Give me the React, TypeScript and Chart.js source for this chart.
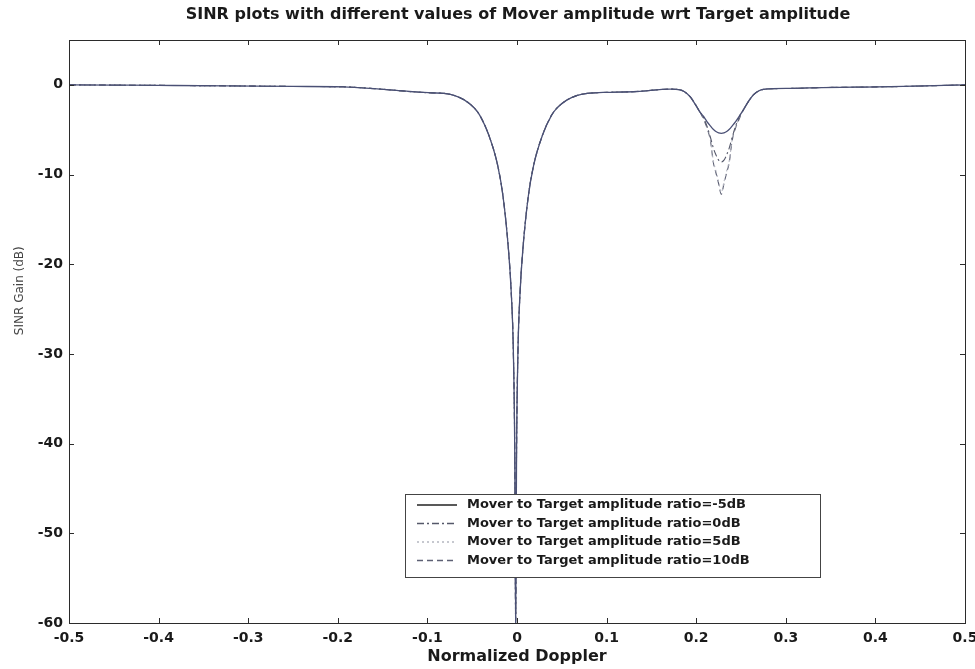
import { useEffect, useRef } from "react";
import { Chart, registerables } from "chart.js";

Chart.register(...registerables);

const FONT = "'DejaVu Sans', 'Liberation Sans', Arial, sans-serif";

const chartTitle = "SINR plots with different values of Mover amplitude wrt Target amplitude";
const xAxisTitle = "Normalized Doppler";
const yAxisTitle = "SINR Gain (dB)";

const xTickValues = [-0.5, -0.4, -0.3, -0.2, -0.1, 0, 0.1, 0.2, 0.3, 0.4, 0.5];
const xTickLabels = ["-0.5", "-0.4", "-0.3", "-0.2", "-0.1", "0", "0.1", "0.2", "0.3", "0.4", "0.5"];
const yTickValues = [-60, -50, -40, -30, -20, -10, 0];
const yTickLabels = ["-60", "-50", "-40", "-30", "-20", "-10", "0"];

// Response shared by every ratio (clutter notch at zero Doppler, flat elsewhere)
const baseDoppler = [
  -0.5, -0.45, -0.4, -0.324, -0.25, -0.194, -0.156, -0.12, -0.095, -0.0815,
  -0.0695, -0.0585, -0.0475, -0.0415, -0.0315, -0.0215, -0.0155, -0.0095, -0.0065, -0.0041,
  -0.0025, -0.0015, -0.0005, 0.0011, 0.0035, 0.0065, 0.0125, 0.0185, 0.0285, 0.0385,
  0.0445, 0.0555, 0.0665, 0.0785, 0.096, 0.134, 0.171, 0.34, 0.375, 0.431, 0.5,
];
const baseGain = [
  0, -0.03, -0.06, -0.11, -0.18, -0.22, -0.45, -0.74, -0.9, -0.95,
  -1.2, -1.7, -2.6, -3.4, -5.6, -9.0, -12.5, -18.4, -23, -29.6,
  -41, -60, -41, -29.6, -23, -18.4, -12.5, -9.0, -5.6, -3.4,
  -2.6, -1.7, -1.2, -0.95, -0.85, -0.74, -0.48, -0.3, -0.26, -0.18, 0,
];

// Mover Doppler region, one gain list per amplitude ratio
const dipDoppler = [
  0.182, 0.193, 0.204, 0.208, 0.212, 0.216, 0.219, 0.222, 0.225, 0.228, 0.231,
  0.234, 0.237, 0.24, 0.244, 0.248, 0.252, 0.258, 0.264, 0.275, 0.305,
];
const gainRatioM5 = [
  -0.56, -1.3, -3.0, -3.5, -4.1, -4.6, -4.95, -5.2, -5.35, -5.4, -5.35,
  -5.2, -4.95, -4.6, -4.1, -3.5, -2.9, -1.9, -1.1, -0.5, -0.4,
];
const gainRatio0 = [
  -0.56, -1.3, -3.0, -3.6, -4.6, -5.9, -7.0, -7.8, -8.4, -8.6, -8.4,
  -7.8, -7.0, -5.9, -4.6, -3.6, -2.9, -1.9, -1.1, -0.5, -0.4,
];
const gainRatio5 = [
  -0.56, -1.3, -3.0, -3.7, -4.7, -6.2, -8.4, -9.6, -10.8, -12.0, -10.8,
  -9.6, -8.4, -6.2, -4.7, -3.7, -2.9, -1.9, -1.1, -0.5, -0.4,
];
const gainRatio10 = [
  -0.56, -1.3, -3.0, -3.8, -4.8, -6.3, -8.6, -9.8, -11.0, -12.2, -11.0,
  -9.8, -8.6, -6.3, -4.8, -3.8, -2.9, -1.9, -1.1, -0.5, -0.4,
];

const seriesLabels = [
  "Mover to Target amplitude ratio=-5dB",
  "Mover to Target amplitude ratio=0dB",
  "Mover to Target amplitude ratio=5dB",
  "Mover to Target amplitude ratio=10dB",
];
const seriesGains = [gainRatioM5, gainRatio0, gainRatio5, gainRatio10];
const seriesColors = ["#4a5075", "#55586a", "#b4b6c0", "#5d6074"];
const seriesDashes: number[][] = [[], [7, 3, 2, 3], [2, 3], [6, 4]];
const seriesWidths = [1.3, 1.1, 1.1, 1.1];

function buildPoints(dip: number[]) {
  const pts = baseDoppler.map((x, i) => ({ x, y: baseGain[i] }));
  dipDoppler.forEach((x, i) => pts.push({ x, y: dip[i] }));
  return pts.sort((a, b) => a.x - b.x);
}

const framePlugin = {
  id: "matlabFrame",
  afterDatasetsDraw(chart: any) {
    const { ctx, chartArea: a, scales } = chart;
    const xs = scales.x;
    const ys = scales.y;
    ctx.save();

    // axes box
    ctx.strokeStyle = "#2b2b2b";
    ctx.lineWidth = 1;
    ctx.strokeRect(a.left + 0.5, a.top + 0.5, a.right - a.left, a.bottom - a.top);

    // inward tick marks on all four sides
    const t = 5;
    ctx.beginPath();
    xTickValues.forEach((v) => {
      const px = Math.round(xs.getPixelForValue(v)) + 0.5;
      ctx.moveTo(px, a.bottom);
      ctx.lineTo(px, a.bottom - t);
      ctx.moveTo(px, a.top);
      ctx.lineTo(px, a.top + t);
    });
    yTickValues.forEach((v) => {
      const py = Math.round(ys.getPixelForValue(v)) + 0.5;
      ctx.moveTo(a.left, py);
      ctx.lineTo(a.left + t, py);
      ctx.moveTo(a.right, py);
      ctx.lineTo(a.right - t, py);
    });
    ctx.stroke();

    // titles
    ctx.fillStyle = "#1a1a1a";
    ctx.textAlign = "center";
    ctx.textBaseline = "middle";
    ctx.font = `bold 16px ${FONT}`;
    ctx.fillText(chartTitle, 518, 15);
    ctx.font = `bold 16px ${FONT}`;
    ctx.fillText(xAxisTitle, (a.left + a.right) / 2, 657);
    ctx.save();
    ctx.translate(20, a.top + (a.bottom - a.top) * 0.43);
    ctx.rotate(-Math.PI / 2);
    ctx.fillStyle = "#444";
    ctx.font = `12px ${FONT}`;
    ctx.fillText(yAxisTitle, 0, 0);
    ctx.restore();

    // legend box inside the axes
    const lx = 405;
    const ly = 494;
    const lw = 415;
    const lh = 83;
    ctx.fillStyle = "#ffffff";
    ctx.fillRect(lx, ly, lw, lh);
    ctx.strokeStyle = "#444";
    ctx.strokeRect(lx + 0.5, ly + 0.5, lw, lh);
    ctx.textAlign = "left";
    ctx.font = `bold 13px ${FONT}`;
    chart.data.datasets.forEach((ds: any, i: number) => {
      const cy = ly + 11 + i * 18.5;
      ctx.beginPath();
      ctx.strokeStyle = i === 0 ? "#222" : ds.borderColor;
      ctx.lineWidth = 1.3;
      ctx.setLineDash(ds.borderDash || []);
      ctx.moveTo(lx + 12, cy);
      ctx.lineTo(lx + 52, cy);
      ctx.stroke();
      ctx.setLineDash([]);
      ctx.fillStyle = "#1a1a1a";
      ctx.fillText(ds.label, lx + 62, cy);
    });

    ctx.restore();
  },
};

export default function App() {
  const canvasRef = useRef<HTMLCanvasElement | null>(null);

  useEffect(() => {
    document.body.style.margin = "0";
    const canvas = canvasRef.current;
    if (!canvas) return;

    const chart = new Chart(canvas, {
      type: "line",
      data: {
        datasets: seriesLabels.map((label, i) => ({
          label,
          data: buildPoints(seriesGains[i]),
          borderColor: seriesColors[i],
          borderDash: seriesDashes[i],
          borderWidth: seriesWidths[i],
          pointRadius: 0,
          fill: false,
          cubicInterpolationMode: "monotone" as const,
        })),
      },
      options: {
        responsive: false,
        animation: false,
        devicePixelRatio: 1,
        layout: { padding: { top: 40, right: 10, left: 0, bottom: 0 } },
        plugins: {
          legend: { display: false },
          title: { display: false },
          tooltip: { enabled: false },
        },
        scales: {
          x: {
            type: "linear",
            min: -0.5,
            max: 0.5,
            grid: { display: false, drawTicks: false },
            border: { display: false },
            afterBuildTicks: (s: any) => {
              s.ticks = xTickValues.map((value) => ({ value }));
            },
            afterFit: (s: any) => {
              s.height = 46;
              s.paddingLeft = 0;
              s.paddingRight = 10;
            },
            ticks: {
              padding: 7,
              maxRotation: 0,
              autoSkip: false,
              color: "#1a1a1a",
              font: { family: FONT, size: 14, weight: "bold" },
              callback: (_v: any, idx: number) => xTickLabels[idx],
            },
          },
          y: {
            type: "linear",
            min: -60,
            max: 5,
            grid: { display: false, drawTicks: false },
            border: { display: false },
            afterBuildTicks: (s: any) => {
              s.ticks = yTickValues.map((value) => ({ value }));
            },
            afterFit: (s: any) => {
              s.width = 69;
              s.paddingTop = 0;
              s.paddingBottom = 0;
            },
            ticks: {
              padding: 6,
              autoSkip: false,
              color: "#1a1a1a",
              font: { family: FONT, size: 14, weight: "bold" },
              callback: (_v: any, idx: number) => yTickLabels[idx],
            },
          },
        },
      },
      plugins: [framePlugin],
    });

    return () => chart.destroy();
  }, []);

  return (
    <div style={{ position: "absolute", left: 0, top: 0, width: 975, height: 669, background: "#fff" }}>
      <canvas ref={canvasRef} width={975} height={669} style={{ display: "block" }} />
    </div>
  );
}
